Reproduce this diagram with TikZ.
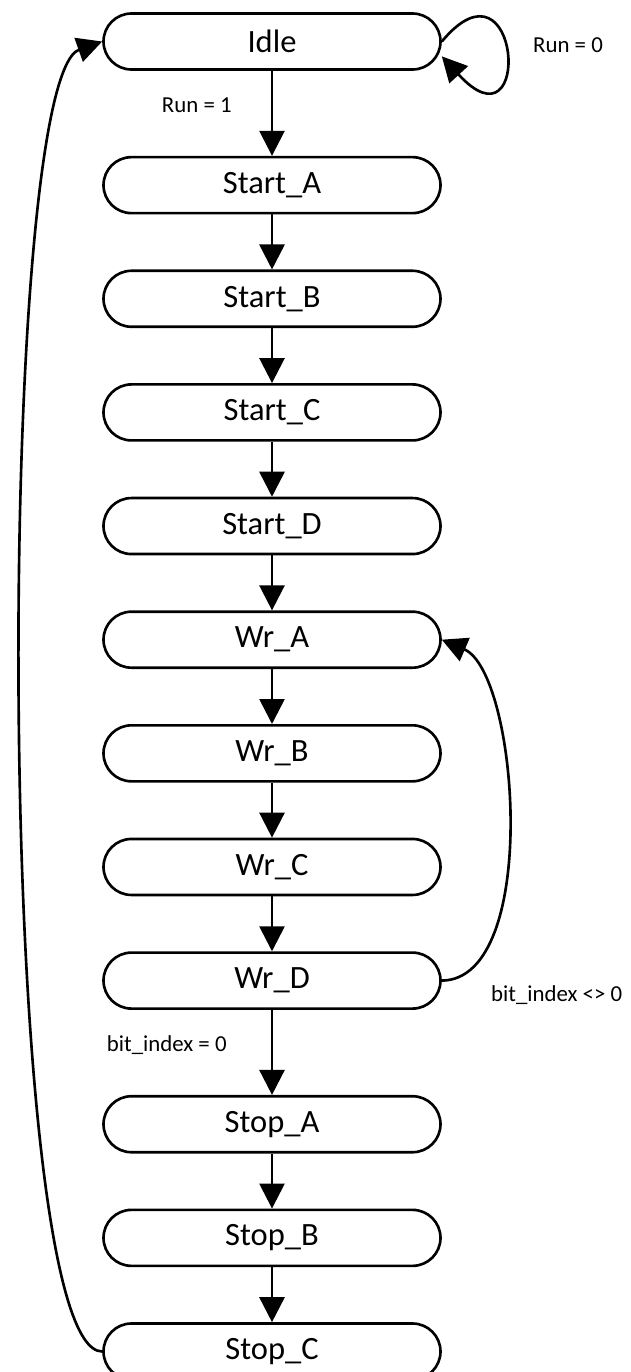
\documentclass[tikz,border=0pt]{standalone}
\usepackage{fontspec}
\setmainfont{Carlito}
\usetikzlibrary{shapes, arrows.meta, positioning}

\begin{document}
\begin{tikzpicture}[
    state/.style={draw, line width=1.5pt, rounded corners=0.56cm, minimum width=6.74cm, minimum height=1.12cm, font=\fontsize{18.5}{21}\selectfont},
    flow/.style={-{Triangle[length=0.5cm, width=0.5cm]}, line width=1.5pt},
    cond/.style={font=\fontsize{13}{15}\selectfont, inner sep=0pt},
    node distance=1.10cm
  ]
  \useasboundingbox (0,0) rectangle (12.6,-27.44);

  % states, top to bottom
  \node[state] (idle) at (5.44,-0.83) {Idle};
  \node[state, below=1.70cm of idle] (starta) {Start\_A};
  \node[state, below=of starta] (startb) {Start\_B};
  \node[state, below=of startb] (startc) {Start\_C};
  \node[state, below=of startc] (startd) {Start\_D};
  \node[state, below=of startd] (wra) {Wr\_A};
  \node[state, below=of wra] (wrb) {Wr\_B};
  \node[state, below=of wrb] (wrc) {Wr\_C};
  \node[state, below=of wrc] (wrd) {Wr\_D};
  \node[state, below=1.70cm of wrd] (stopa) {Stop\_A};
  \node[state, below=of stopa] (stopb) {Stop\_B};
  \node[state, below=of stopb] (stopc) {Stop\_C};

  % straight transitions
  \draw[flow] (idle) -- node[cond, left=0.78cm, pos=0.4] (runone) {Run = 1} (starta);
  \foreach \a/\b in {starta/startb, startb/startc, startc/startd, startd/wra, wra/wrb, wrb/wrc, wrc/wrd, stopa/stopb, stopb/stopc}
    \draw[flow] (\a) -- (\b);
  \draw[flow] (wrd) -- node[cond, left=0.88cm, pos=0.41] (bitzero) {bit\_index = 0} (stopa);

  % wait in idle
  \draw[flow] (idle.east) .. controls +(1.58,1.9) and +(1.84,-2.0) .. (idle.-5);
  \node[cond, right=1.82cm of idle.east, yshift=-0.07cm] (runzero) {Run = 0};

  % next bit
  \draw[flow] (wrd.east) .. controls +(1.98,0.02) and +(1.54,-0.66) .. (wra.east);
  \node[cond, right=0.98cm of wrd.east, yshift=-0.3cm] (bitnext) {bit\_index <> 0};

  % back to idle
  \draw[flow] (stopc.west) .. controls +(-2.15,0) and +(-2.15,-0.76) .. (idle.west);
\end{tikzpicture}
\end{document}
